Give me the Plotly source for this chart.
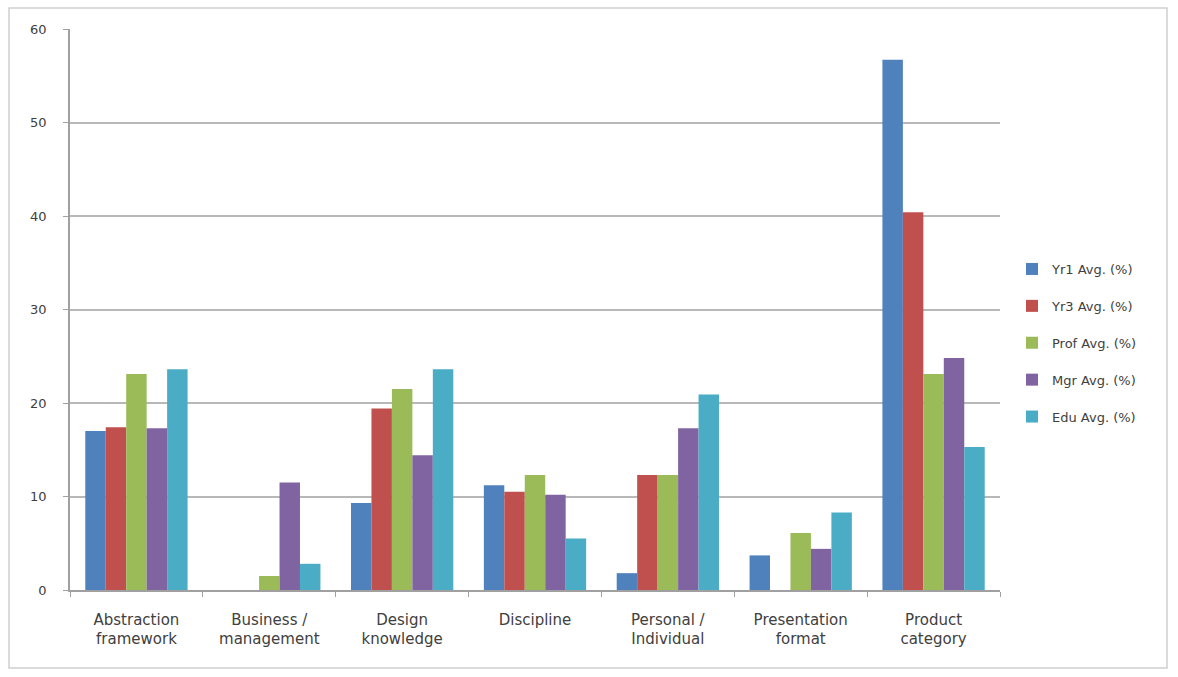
import plotly.graph_objects as go

categories = ["Abstraction<br>framework", "Business /<br>management", "Design<br>knowledge",
              "Discipline", "Personal /<br>Individual", "Presentation<br>format", "Product<br>category"]
series_names = ["Yr1 Avg. (%)", "Yr3 Avg. (%)", "Prof Avg. (%)", "Mgr Avg. (%)", "Edu Avg. (%)"]
yr1 = [17.0, 0, 9.3, 11.2, 1.8, 3.7, 56.7]
yr3 = [17.4, 0, 19.4, 10.5, 12.3, 0, 40.4]
prof = [23.1, 1.5, 21.5, 12.3, 12.3, 6.1, 23.1]
mgr = [17.3, 11.5, 14.4, 10.2, 17.3, 4.4, 24.8]
edu = [23.6, 2.8, 23.6, 5.5, 20.9, 8.3, 15.3]
colors = ["#4F81BD", "#C0504D", "#9BBB59", "#8064A2", "#4BACC6"]

fig = go.Figure()
for name, vals, c in zip(series_names, [yr1, yr3, prof, mgr, edu], colors):
    fig.add_trace(go.Bar(x=categories, y=vals, name=name, legendgroup=name,
                         marker=dict(color=c, line=dict(width=0))))

W, H = 1178, 677
l, r, t, b = 70, 178, 29, 87
pw, ph = W - l - r, H - t - b

def px2x(px):
    return (px - l) / pw

def px2y(py):
    return (H - b - py) / ph

fig.update_layout(
    width=W, height=H,
    margin=dict(l=l, r=r, t=t, b=b),
    paper_bgcolor="white", plot_bgcolor="white",
    barmode="group", bargap=0.23, bargroupgap=0,
    font=dict(family="DejaVu Sans, sans-serif", size=13, color="#404040"),
    legend=dict(x=px2x(1012), y=px2y(343), xanchor="left", yanchor="middle",
                font=dict(size=13, color="#404040"), tracegroupgap=17,
                itemwidth=30, bgcolor="rgba(0,0,0,0)"),
    shapes=[dict(type="rect", xref="paper", yref="paper",
                 x0=px2x(9), x1=px2x(1167), y0=px2y(668), y1=px2y(8),
                 line=dict(color="#d0d0d0", width=1.5), fillcolor="rgba(0,0,0,0)", layer="below")],
)
fig.update_yaxes(range=[0, 60], dtick=10, showgrid=True, gridcolor="#b8b8b8", gridwidth=1.5,
                 showline=True, linecolor="#a0a0a0", linewidth=1.5, ticks="outside",
                 ticklen=5, tickcolor="#a0a0a0", zeroline=False, ticklabelstandoff=14,
                 tickfont=dict(size=13, color="#404040"))
fig.update_xaxes(showline=True, linecolor="#a0a0a0", linewidth=1.5, ticks="outside",
                 tickson="boundaries", ticklen=5, tickcolor="#a0a0a0", ticklabelstandoff=15,
                 tickfont=dict(size=15, color="#404040"))

fig.write_html("out.html")
